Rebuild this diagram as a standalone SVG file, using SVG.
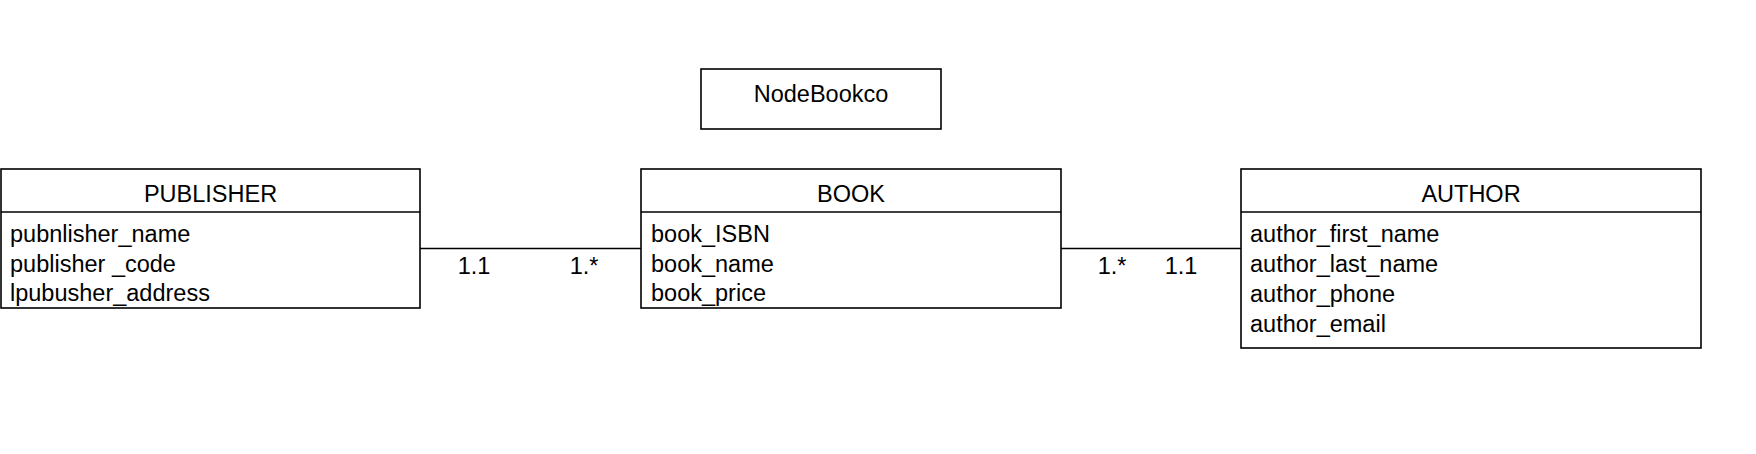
<svg xmlns="http://www.w3.org/2000/svg" width="1756" height="454" viewBox="0 0 1756 454">
<style>
.box{fill:#fff;stroke:#000;stroke-width:1.6}
.sep{stroke:#000;stroke-width:1.6}
.conn{stroke:#000;stroke-width:1.6;fill:none}
text{font-family:"Liberation Sans",Arial,sans-serif;font-size:23.5px;fill:#000}
.c{text-anchor:middle}
</style>
<rect width="1756" height="454" fill="#fff"/>
<g id="connectors">
<line class="conn" x1="420" y1="248.5" x2="641" y2="248.5"/>
<line class="conn" x1="1061" y1="248.5" x2="1241" y2="248.5"/>
<text class="c" x="474" y="274">1.1</text>
<text class="c" x="584" y="274">1.*</text>
<text class="c" x="1112" y="274">1.*</text>
<text class="c" x="1181" y="274">1.1</text>
</g>
<g id="nodebookco">
<rect class="box" x="701" y="69" width="240" height="60"/>
<text class="c" x="821" y="102">NodeBookco</text>
</g>
<g id="publisher">
<rect class="box" x="1" y="169" width="419" height="139"/>
<line class="sep" x1="1" y1="212" x2="420" y2="212"/>
<text class="c" x="210.5" y="202">PUBLISHER</text>
<text x="10" y="241.5">pubnlisher_name</text>
<text x="10" y="271.5">publisher _code</text>
<text x="10" y="301">lpubusher_address</text>
</g>
<g id="book">
<rect class="box" x="641" y="169" width="420" height="139"/>
<line class="sep" x1="641" y1="212" x2="1061" y2="212"/>
<text class="c" x="851" y="202">BOOK</text>
<text x="651" y="241.5">book_ISBN</text>
<text x="651" y="271.5">book_name</text>
<text x="651" y="301">book_price</text>
</g>
<g id="author">
<rect class="box" x="1241" y="169" width="460" height="179"/>
<line class="sep" x1="1241" y1="212" x2="1701" y2="212"/>
<text class="c" x="1471" y="202">AUTHOR</text>
<text x="1250" y="241.5">author_first_name</text>
<text x="1250" y="271.5">author_last_name</text>
<text x="1250" y="301.5">author_phone</text>
<text x="1250" y="331.5">author_email</text>
</g>
</svg>
